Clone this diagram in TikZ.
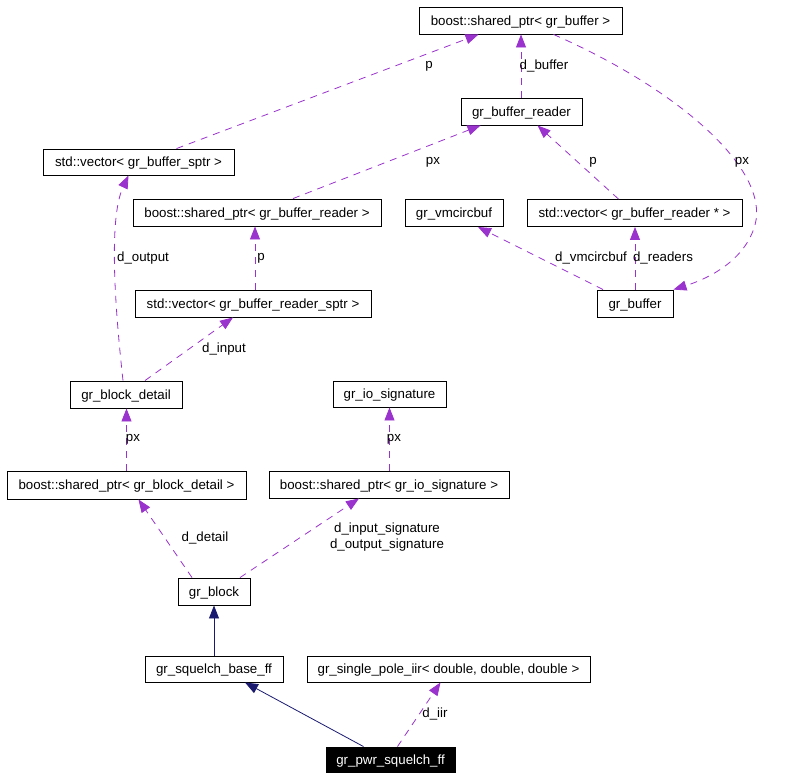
\documentclass[tikz,border=0pt]{standalone}
\usepackage{fontspec}
\setmainfont{Liberation Sans}
\usetikzlibrary{arrows.meta,calc}
\definecolor{edgepurple}{HTML}{9A32CD}
\definecolor{edgenavy}{HTML}{191970}
\tikzset{
  box/.style={draw=black, line width=0.9pt, rectangle, inner sep=0pt, minimum height=27pt, text height=11.5pt, text depth=2.5pt, font=\fontsize{13.3}{16}\selectfont, text=black, anchor=center},
  focus/.style={box, fill=black, text=white},
  usage/.style={draw=edgepurple, line width=0.8pt, dash pattern=on 7pt off 6pt, -{Triangle[length=13pt,width=10pt,fill=edgepurple]}},
  inherit/.style={draw=edgenavy, line width=0.8pt, -{Triangle[length=13pt,width=10pt,fill=edgenavy]}},
  lbl/.style={font=\fontsize{13.3}{16}\selectfont, text=black, inner sep=0pt, align=center}
}
\begin{document}
\begin{tikzpicture}[x=1pt,y=-1pt]
\useasboundingbox (0,0) rectangle (800,780);
% nodes
\node[box, minimum width=203pt] (spbuf) at (520.5,20.5) {boost::shared\_ptr< gr\_buffer >};
\node[box, minimum width=121pt] (reader) at (521.5,111.5) {gr\_buffer\_reader};
\node[box, minimum width=191pt, minimum height=26pt] (vecsptr) at (138.5,162) {std::vector< gr\_buffer\_sptr >};
\node[box, minimum width=248pt] (spreader) at (257,212.5) {boost::shared\_ptr< gr\_buffer\_reader >};
\node[box, minimum width=98pt] (vmcirc) at (454,213) {gr\_vmcircbuf};
\node[box, minimum width=215pt] (vecrp) at (634.5,213) {std::vector< gr\_buffer\_reader * >};
\node[box, minimum width=76pt] (grbuf) at (635,303.5) {gr\_buffer};
\node[box, minimum width=236pt] (vecrsptr) at (253,303.5) {std::vector< gr\_buffer\_reader\_sptr >};
\node[box, minimum width=112pt] (bdetail) at (126,394.5) {gr\_block\_detail};
\node[box, minimum width=113pt, minimum height=26pt] (iosig) at (389.5,394) {gr\_io\_signature};
\node[box, minimum width=239pt, minimum height=28pt] (spbd) at (126.5,485) {boost::shared\_ptr< gr\_block\_detail >};
\node[box, minimum width=240pt] (spio) at (389,484.5) {boost::shared\_ptr< gr\_io\_signature >};
\node[box, minimum width=72pt] (block) at (214,591.5) {gr\_block};
\node[box, minimum width=138pt, minimum height=26pt] (sqbase) at (214,669) {gr\_squelch\_base\_ff};
\node[box, minimum width=283pt, minimum height=26pt] (iir) at (448.5,669) {gr\_single\_pole\_iir< double, double, double >};
\node[focus, minimum width=129pt, minimum height=25pt] (pwr) at (390.5,759.5) {gr\_pwr\_squelch\_ff};
% edges
\draw[usage] ($(vecsptr.north)+(38,0)$) -- ($(spbuf.south)+(-42,0)$);
\draw[usage] ($(reader.north)+(-0.5,0)$) -- ($(spbuf.south)+(0.5,0)$);
\draw[usage] ($(spbuf.south)+(33,0)$) .. controls (680,90) and (770,170) .. (755,225) .. controls (745,260) and (710,278) .. (grbuf.north east);
\draw[usage] ($(spreader.north)+(36,0)$) -- ($(reader.south)+(-41,0)$);
\draw[usage] ($(vecrp.north)+(-16,0)$) -- ($(reader.south)+(16,0)$);
\draw[usage] ($(grbuf.north)+(-32,0)$) -- ($(vmcirc.south)+(24,0)$);
\draw[usage] (grbuf.north) -- ($(vecrp.south)+(0.5,0)$);
\draw[usage] ($(vecrsptr.north)+(2,0)$) -- ($(spreader.south)+(-2,0)$);
\draw[usage] ($(bdetail.north)+(-3,0)$) .. controls (113,290) and (110,215) .. ($(vecsptr.south)+(-10,0)$);
\draw[usage] ($(bdetail.north)+(19,0)$) -- ($(vecrsptr.south)+(-20,0)$);
\draw[usage] (spbd.north) -- ($(bdetail.south)+(0.5,0)$);
\draw[usage] ($(spio.north)+(0.5,0)$) -- (iosig.south);
\draw[usage] ($(block.north)+(-22,0)$) -- ($(spbd.south)+(12,0)$);
\draw[usage] ($(block.north)+(26,0)$) -- ($(spio.south)+(-30,0)$);
\draw[inherit] (sqbase.north) -- (block.south);
\draw[inherit] ($(pwr.north)+(-27,0)$) -- ($(sqbase.south)+(31,0)$);
\draw[usage] ($(pwr.north)+(7,0)$) -- ($(iir.south)+(-8,0)$);
% labels
\node[lbl] (l1) at (429,66) {p};
\node[lbl] (l2) at (544,66) {d\_buffer};
\node[lbl] (l3) at (742,162) {px};
\node[lbl] (l4) at (433,162) {px};
\node[lbl] (l5) at (593,162) {p};
\node[lbl] (l6) at (591,258) {d\_vmcircbuf};
\node[lbl] (l7) at (663,258) {d\_readers};
\node[lbl] (l8) at (143,258) {d\_output};
\node[lbl] (l9) at (261,258) {p};
\node[lbl] (l10) at (224,349) {d\_input};
\node[lbl] (l11) at (133,439) {px};
\node[lbl] (l12) at (394,439) {px};
\node[lbl] (l13) at (205,538) {d\_detail};
\node[lbl] (l14) at (387,537) {d\_input\_signature\\d\_output\_signature};
\node[lbl] (l15) at (435,714) {d\_iir};
\end{tikzpicture}
\end{document}
